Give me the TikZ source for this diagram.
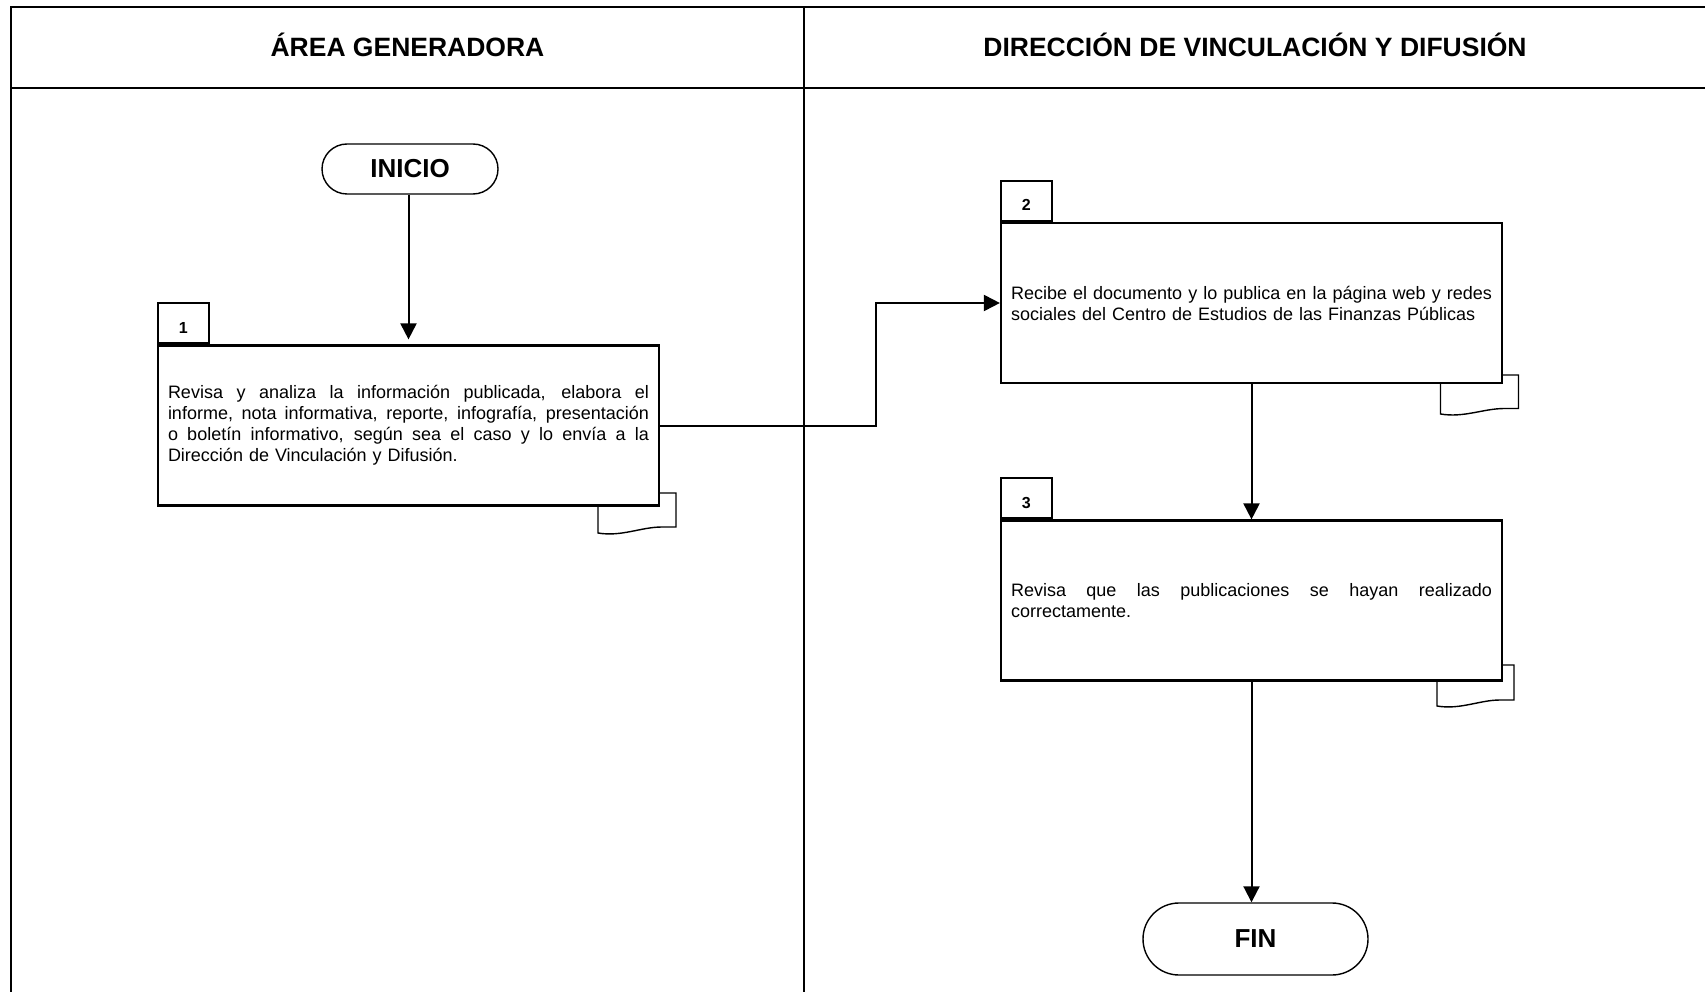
\documentclass[tikz,border=0pt]{standalone}
\usepackage{fontspec}
\setmainfont{Liberation Sans}
\usetikzlibrary{shapes.misc,arrows.meta,calc}
\tikzset{
  frameline/.style={line width=2pt,line cap=rect},
  lanetitle/.style={font=\fontsize{26.5}{30}\selectfont\bfseries,inner sep=0pt},
  term/.style={rounded rectangle,draw,line width=1.4pt,fill=white,
    font=\fontsize{26}{30}\selectfont\bfseries,inner sep=0pt},
  stepbox/.style={rectangle,draw,line width=2.2pt,fill=white,
    minimum width=501pt,minimum height=160pt,text width=481pt,
    inner xsep=10pt,inner ysep=0pt,align=left,
    font=\fontsize{18}{21}\selectfont},
  numtab/.style={rectangle,draw,line width=2pt,fill=white,
    minimum width=51pt,minimum height=40pt,inner sep=0pt,
    text height=19.5pt,text depth=0pt,
    font=\fontsize{16}{18}\selectfont\bfseries},
  doctab/.style={draw,line width=1.4pt,fill=white},
  flow/.style={line width=2pt,-{Triangle[width=16pt,length=16pt]}}
}
\newcommand{\spreadline}[1]{\leavevmode\hbox to 481pt{\spaceskip=0.278em plus 1fil\relax #1}\\}
\newcommand{\mydoctab}[5]{% xl xr ytop ybl ybr
  \draw[doctab] (#1,#3) -- (#2,#3) -- (#2,#5)
    -- ($(#1,#5)!0.82!(#2,#5)$)
    .. controls ($(#1,#5)!0.55!(#2,#5)$) and ($(#1,#4+4)!0.3!(#2,#4+4)$) .. (#1,#4) -- cycle;}
\begin{document}
\begin{tikzpicture}[x=1pt,y=-1pt]
\useasboundingbox (0,0) rectangle (1705,992);
% swimlane frame
\draw[frameline] (11,992) -- (11,7) -- (1705,7);
\draw[frameline] (11,88) -- (1705,88);
\draw[frameline] (804,7) -- (804,992);
\node[lanetitle] (t1) at (407.5,45) {ÁREA GENERADORA};
\node[lanetitle] (t2) at (1255,45) {DIRECCIÓN DE VINCULACIÓN Y DIFUSIÓN};
% doc tabs (behind boxes)
\mydoctab{598}{676}{493}{533}{527}
\mydoctab{1440.5}{1518.5}{375}{414}{408.5}
\mydoctab{1437}{1514}{665}{706}{700}
% nodes
\node[term,minimum width=176pt,minimum height=50pt] (ini) at (410,169) {INICIO};
\node[stepbox] (b1) at (408.5,425.5) {\spreadline{Revisa y analiza la información publicada, elabora el}\spreadline{informe, nota informativa, reporte, infografía, presentación}\spreadline{o boletín informativo, según sea el caso y lo envía a la}Dirección de Vinculación y Difusión.};
\node[numtab,anchor=south west] (n1) at (b1.north west) {1};
\node[stepbox] (b2) at (1251.5,303) {\spreadline{Recibe el documento y lo publica en la página web y redes}sociales del Centro de Estudios de las Finanzas Públicas};
\node[numtab,anchor=south west] (n2) at (b2.north west) {2};
\node[stepbox] (b3) at (1251.5,600.5) {\spreadline{Revisa que las publicaciones se hayan realizado}correctamente.};
\node[numtab,anchor=south west] (n3) at (b3.north west) {3};
\node[term,minimum width=225pt,minimum height=72pt] (fin) at (1255.5,939) {FIN};
% connectors
\coordinate (j) at (876,0);
\draw[flow,shorten >=5pt] (ini.south -| b1.north) -- (b1.north);
\draw[flow] (b1.east) -- (b1.east -| j) |- (b2.west);
\draw[flow] (b2.south) -- (b3.north);
\draw[flow] (b3.south) -- (b3.south |- fin.north);
\end{tikzpicture}
\end{document}
